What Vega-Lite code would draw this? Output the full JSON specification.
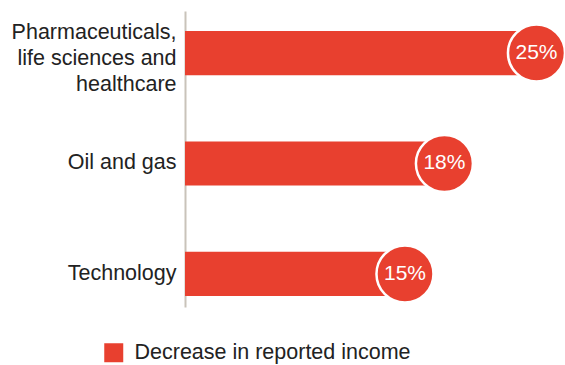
{
  "$schema": "https://vega.github.io/schema/vega-lite/v6.json",
  "width": 380,
  "height": 296,
  "autosize": {"type": "none"},
  "padding": {"left": 185, "top": 11, "right": 0, "bottom": 58},
  "background": "white",
  "config": {
    "view": {"stroke": null},
    "font": "Liberation Sans"
  },
  "data": {
    "values": [
      {"category": "Pharmaceuticals, life sciences and healthcare", "value": 25, "label": "25%", "series": "Decrease in reported income"},
      {"category": "Oil and gas", "value": 18, "label": "18%", "series": "Decrease in reported income"},
      {"category": "Technology", "value": 15, "label": "15%", "series": "Decrease in reported income"}
    ]
  },
  "encoding": {
    "y": {
      "field": "category",
      "type": "nominal",
      "sort": null,
      "scale": {"paddingInner": 0.6, "paddingOuter": 0.14, "align": 0.645},
      "axis": {
        "title": null,
        "ticks": false,
        "grid": false,
        "domainColor": "#C9C3BA",
        "domainWidth": 2,
        "labelFontSize": 21.5,
        "labelColor": "#222222",
        "labelPadding": 9,
        "labelLimit": 300,
        "labelLineHeight": 26,
        "labelOffset": {"condition": {"test": "datum.label == 'Pharmaceuticals, life sciences and healthcare'", "value": -20}, "value": 0},
        "labelExpr": "datum.label == 'Pharmaceuticals, life sciences and healthcare' ? ['Pharmaceuticals,', 'life sciences and', 'healthcare'] : datum.label"
      }
    }
  },
  "layer": [
    {
      "mark": {"type": "bar"},
      "encoding": {
        "x": {"field": "value", "type": "quantitative", "scale": {"domain": [-1.73, 27.17], "zero": false, "nice": false}, "axis": null},
        "x2": {"datum": -1.73},
        "color": {
          "field": "series",
          "type": "nominal",
          "scale": {"range": ["#E8402F"]},
          "legend": {
            "title": null,
            "orient": "none",
            "legendX": -82,
            "legendY": 331,
            "symbolType": "square",
            "symbolSize": 361,
            "symbolStrokeWidth": 0,
            "symbolOpacity": 1,
            "labelFontSize": 21.5,
            "labelColor": "#222222",
            "labelOffset": 10,
            "labelLimit": 400
          }
        }
      }
    },
    {
      "mark": {"type": "point", "shape": "circle", "filled": true, "size": 3250, "stroke": "white", "strokeWidth": 2.5, "strokeOpacity": 1, "opacity": 1, "fill": "#E8402F"},
      "encoding": {
        "x": {"field": "value", "type": "quantitative"}
      }
    },
    {
      "mark": {"type": "text", "color": "white", "fontSize": 21, "align": "center", "baseline": "middle"},
      "encoding": {
        "x": {"field": "value", "type": "quantitative"},
        "text": {"field": "label"}
      }
    }
  ]
}
